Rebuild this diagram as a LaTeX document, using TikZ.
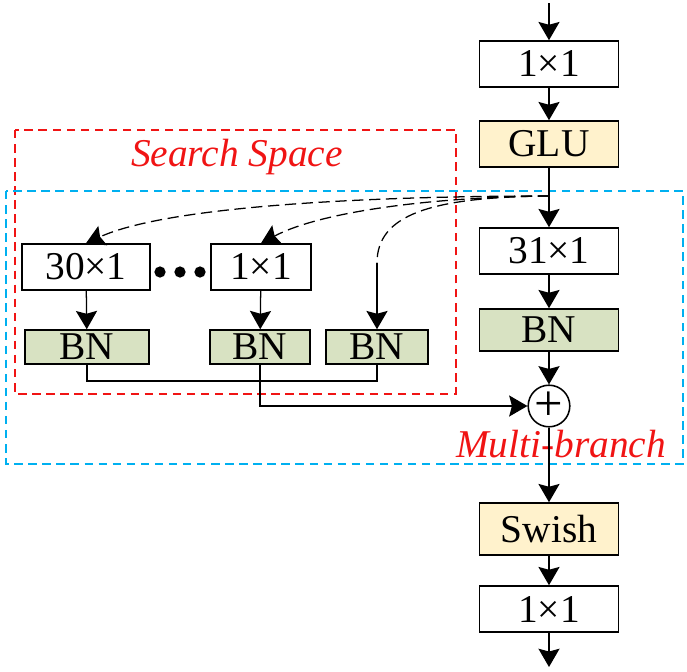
\documentclass[tikz,border=0pt]{standalone}
\usepackage{fontspec}
\setmainfont{Liberation Serif}
\usetikzlibrary{arrows.meta,positioning}

\definecolor{gluyellow}{RGB}{255,242,204}
\definecolor{bngreen}{RGB}{216,226,194}
\definecolor{spacered}{RGB}{240,20,20}
\definecolor{branchcyan}{RGB}{0,176,240}

\begin{document}
\begin{tikzpicture}[x=0.025cm,y=-0.025cm,
  box/.style={shape=rectangle,draw,line width=1.1pt,inner sep=0pt,minimum height=1.15cm,font=\fontsize{28}{30}\selectfont},
  mainbox/.style={box,minimum width=3.475cm},
  bnbox/.style={box,fill=bngreen,minimum height=0.85cm},
  flow/.style={-{Stealth[length=13pt,width=15pt,inset=2pt]},line width=0.9pt},
  choice/.style={flow,dash pattern=on 8pt off 4pt},
  region/.style={line width=0.9pt,dash pattern=on 6pt off 4pt},
  tag/.style={text=spacered,font=\fontsize{28}{30}\selectfont\itshape}]
\useasboundingbox (0,0) rectangle (687,672);

% regions
\draw[region,spacered] (15,130) rectangle (456,394);
\draw[region,branchcyan] (6,191) rectangle (683,464);
\node[tag](searchlbl) at (237,157) {Search Space};
\node[tag](branchlbl) at (561,444) {Multi-branch};

% main column
\coordinate(in) at (549,3);
\node(conv1a) at (549,64) [mainbox] {1×1};
\node[fill=gluyellow](glu) at (549,144) [mainbox] {GLU};
\coordinate(split) at (549,196);
\node(conv31) at (549,251) [mainbox] {31×1};
\node[fill=bngreen](bnmain) at (549,330) [mainbox,minimum height=1.05cm] {BN};
\node(plus) at (549,406) [shape=circle,draw,line width=1.1pt,minimum size=1.04cm,inner sep=0pt,font=\fontsize{36}{36}\selectfont] {+};
\node[fill=gluyellow](swish) at (549,529) [mainbox,minimum height=1.3cm] {Swish};
\node(conv1b) at (549,609) [mainbox] {1×1};
\coordinate(out) at (549,667);

% searched branches
\node(conv30) at (86,267) [box,minimum width=3.2cm] {30×1};
\node(conv1c) at (261,267) [box,minimum width=2.5cm] {1×1};
\node(bna) at (87,347) [bnbox,minimum width=3.1cm] {BN};
\node(bnb) at (260,347) [bnbox,minimum width=2.5cm] {BN};
\node(bnc) at (377,347) [bnbox,minimum width=2.55cm] {BN};
\coordinate(turn) at (377,263);
\coordinate(joinl) at (87,381);
\coordinate(joinr) at (377,381);
\foreach \x in {160,180,200} \fill (\x,272) circle (4pt);

\path [flow]
(in) edge (conv1a)
(conv1a) edge (glu)
(conv31) edge (bnmain)
(bnmain) edge (plus)
(plus) edge (swish)
(swish) edge (conv1b)
(conv1b) edge (out)
(conv30) edge (bna)
(conv1c) edge (bnb)
(turn) edge (bnc);
\draw[flow] (glu) -- (conv31);
\draw[choice] (split) .. controls (380,196) and (170,205) .. (conv30.north);
\draw[choice] (split) .. controls (430,197) and (320,212) .. (conv1c.north);
\draw[line width=0.9pt,dash pattern=on 8pt off 4pt] (split) .. controls (430,197) and (377,215) .. (turn);
\draw[line width=0.9pt] (bna.south) -- (joinl) -- (joinr) -- (bnc.south);
\draw[flow] (bnb.south) |- (plus.west);
\end{tikzpicture}
\end{document}
